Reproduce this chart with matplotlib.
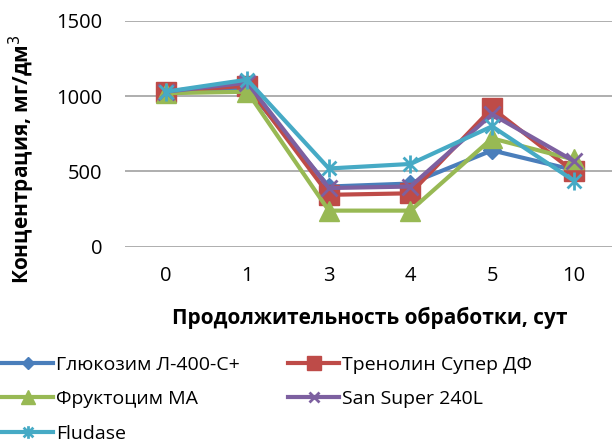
import matplotlib
matplotlib.use('Agg')
import matplotlib.pyplot as plt
from matplotlib.path import Path

plt.rcParams['font.family'] = ['Open Sans', 'DejaVu Sans']

days = ['0', '1', '3', '4', '5', '10']
glucozym = [1020, 1050, 400, 420, 640, 510]
trenolin = [1030, 1070, 345, 355, 920, 500]
fructozym = [1020, 1030, 240, 240, 720, 580]
san_super = [1030, 1090, 390, 400, 880, 570]
fludase = [1030, 1110, 520, 550, 800, 440]

labels = ['Глюкозим Л-400-С+', 'Тренолин Супер ДФ', 'Фруктоцим МА',
          'San Super 240L', 'Fludase']

# star marker like in Excel: x with vertical bar
star = Path([(-1, -1), (1, 1), (-1, 1), (1, -1), (0, -1.3), (0, 1.3)],
            [Path.MOVETO, Path.LINETO, Path.MOVETO, Path.LINETO, Path.MOVETO, Path.LINETO])

fig = plt.figure(figsize=(6.12, 4.43), dpi=100)
ax = fig.add_axes([0.204, 0.443, 0.80, 0.5097])

x = range(len(days))
h1, = ax.plot(x, glucozym, color='#4A7EBB', lw=3, marker='D', ms=9)
h2, = ax.plot(x, trenolin, color='#BE4B48', lw=3, marker='s', ms=14)
h3, = ax.plot(x, fructozym, color='#98B954', lw=3, marker='^', ms=15)
h4, = ax.plot(x, san_super, color='#7D60A0', lw=3, marker='x', ms=11, mew=2)
h5, = ax.plot(x, fludase, color='#46AAC5', lw=3, marker=star, ms=13, mew=2)

ax.set_xlim(-0.5, len(days) - 0.5)
ax.set_ylim(0, 1500)
ax.set_yticks([0, 500, 1000, 1500])
ax.set_xticks(list(x))
ax.set_xticklabels(days)
ax.tick_params(length=0, labelsize=14.5)
ax.tick_params(axis='y', pad=16)
ax.tick_params(axis='x', pad=14)
ax.grid(axis='y', color='#A8A8A8', lw=1.3)
ax.set_axisbelow(True)
for s in ax.spines.values():
    s.set_visible(False)

ax.set_xlabel('Продолжительность обработки, сут', fontsize=15, fontweight='bold', labelpad=15)
fig.text(0.036, 0.64, 'Концентрация, мг/дм$^3$', rotation=90, fontsize=15,
         fontweight='bold', ha='center', va='center')

handles = [h1, h2, h3, h4, h5]
order = [0, 2, 4, 1, 3]
fig.legend([handles[i] for i in order], [labels[i] for i in order], ncol=2,
           loc='upper left', bbox_to_anchor=(0.004, 0.197), frameon=False,
           fontsize=14, handlelength=2.6, handletextpad=0.15, labelspacing=0.85,
           columnspacing=2.5, borderaxespad=0, borderpad=0, markerscale=0.7)

fig.savefig('out.png', dpi=100)
